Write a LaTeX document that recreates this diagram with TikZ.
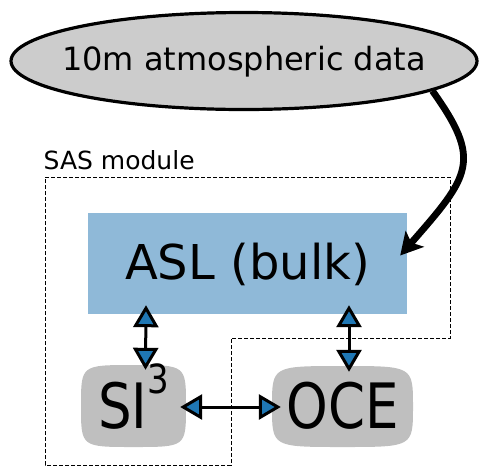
\documentclass[tikz,border=0pt]{standalone}
\usepackage{fontspec}
\setmainfont{DejaVu Sans}
\usetikzlibrary{arrows.meta,shapes.geometric,calc}
\definecolor{ellgray}{HTML}{CCCCCC}
\definecolor{boxgray}{HTML}{BFBFBF}
\definecolor{aslblue}{HTML}{8FB9D8}
\definecolor{tipblue}{HTML}{1F77B4}

% squircle-like box: x1 y1 x2 y2 (y grows downwards)
\newcommand\softbox[4]{%
  \fill[boxgray] ({(#1+#3)/2},#2)
    .. controls (#3,#2) and (#3,#2) .. (#3,{(#2+#4)/2})
    .. controls (#3,#4) and (#3,#4) .. ({(#1+#3)/2},#4)
    .. controls (#1,#4) and (#1,#4) .. (#1,{(#2+#4)/2})
    .. controls (#1,#2) and (#1,#2) .. cycle;}
% text whose baseline sits #1 below the node centre
\newcommand\pinned[2]{\makebox[0pt]{\raisebox{-#1}[0pt][0pt]{#2}}}

\begin{document}
\begin{tikzpicture}[x=1pt,y=-1pt,
  source/.style={ellipse, draw, line width=3.2pt, fill=ellgray,
    minimum width=466pt, minimum height=97pt, inner sep=0pt,
    font=\fontsize{32}{38}\selectfont},
  layer/.style={rectangle, fill=aslblue, minimum width=319pt,
    minimum height=101pt, inner sep=0pt, font=\fontsize{48}{56}\selectfont},
  component/.style={inner sep=0pt, font=\fontsize{53}{60}\selectfont},
  exchange/.style={line width=3pt, {Triangle[length=22pt,width=25pt,fill=tipblue]}-{Triangle[length=22pt,width=25pt,fill=tipblue]}},
  forcing/.style={line width=6.8pt, -{Stealth[length=22pt,width=24pt,inset=5pt]}},
  boundary/.style={line width=1pt, dash pattern=on 4pt off 2pt},
]
\useasboundingbox (0,0) rectangle (479,467);

% SAS module outline
\draw[boundary] (45,177) -| (450,338) -| (231,465) -- (45,465) -- cycle;
\node[anchor=base west, inner sep=0pt, font=\fontsize{25}{30}\selectfont]
  (saslabel) at (43.5,169) {SAS module};

% atmospheric surface layer and forcing
\node[layer] (asl) at (247.5,263.5) {\pinned{15.5pt}{ASL (bulk)}};
\node[source] (atm) at (244,61) {\pinned{9.8pt}{10m atmospheric data}};

% sea ice and ocean components
\softbox{81}{365}{186}{447}
\softbox{272}{366}{413}{447}
\node[component, minimum width=105pt, minimum height=82pt] (si) at (133.5,406)
  {\pinned{22pt}{\scalebox{1}[1.18]{SI\raisebox{0.55em}{\fontsize{34}{40}\selectfont 3}}}};
\node[component, minimum width=141pt, minimum height=81pt] (oce) at (342.5,406.5)
  {\pinned{21.5pt}{\scalebox{1}[1.18]{OCE}}};

% exchanges
\draw[exchange] ($(asl.south)+(-101.5,-9)$) -- ($(si.north)+(12,5)$);
\draw[exchange] ($(asl.south)+(101.5,-9)$) -- ($(oce.north)+(6.5,6)$);
\draw[exchange] ($(si.east)+(-6,1)$) -- ($(oce.west)+(9,0.5)$);

% forcing arrow
\draw[forcing] (atm.-9.2) .. controls ($(atm.-9.2)+(50,70)$) and ($(asl.east)+(63,-88)$) .. ($(asl.east)+(-7,-8)$);
\end{tikzpicture}
\end{document}
